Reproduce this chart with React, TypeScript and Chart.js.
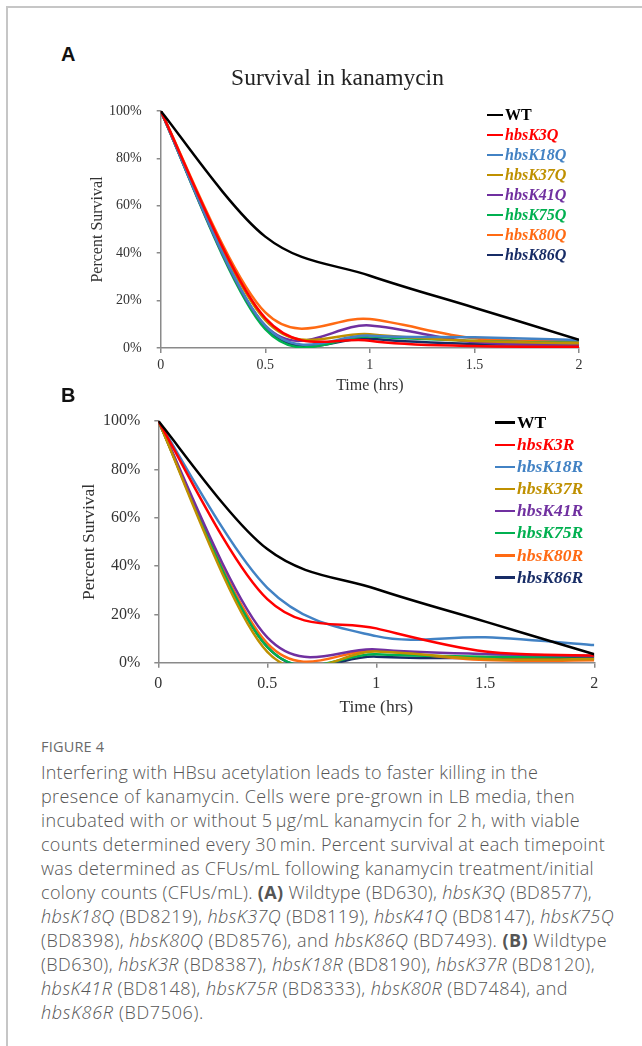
import React, { useEffect, useLayoutEffect, useRef } from "react";
import { Chart, registerables } from "chart.js";

Chart.register(...registerables);

// ---------- data ----------
const TIME_HRS = [0, 0.5, 1, 1.5, 2];
const X_TICK_LABELS = ["0", "0.5", "1", "1.5", "2"];
const Y_TICK_LABELS = ["0%", "20%", "40%", "60%", "80%", "100%"];

const STRAIN_COLORS = ["#000000", "#FF0000", "#4282C4", "#BF9000", "#7030A0", "#00B050", "#FF6A13", "#172C66"];

// Panel A (K->Q), percent survival
const NAMES_A = ["WT", "hbsK3Q", "hbsK18Q", "hbsK37Q", "hbsK41Q", "hbsK75Q", "hbsK80Q", "hbsK86Q"];
const A_WT = [100, 47, 30.5, 17, 3.5];
const A_K3Q = [100, 12.6, 3.1, 0.8, 0.5];
const A_K18Q = [100, 9.4, 5.2, 4.5, 3.4];
const A_K37Q = [100, 11.8, 5.8, 3, 2];
const A_K41Q = [100, 9.4, 9.5, 2.5, 1.5];
const A_K75Q = [100, 8, 4.8, 3, 2.2];
const A_K80Q = [100, 15, 12.2, 4.1, 2.8];
const A_K86Q = [100, 9, 3.9, 1.7, 1.5];

// Panel B (K->R), percent survival
const NAMES_B = ["WT", "hbsK3R", "hbsK18R", "hbsK37R", "hbsK41R", "hbsK75R", "hbsK80R", "hbsK86R"];
const B_WT = [100, 47, 30.5, 17, 3.5];
const B_K3R = [100, 26.3, 14.2, 4.6, 3];
const B_K18R = [100, 31, 11, 10.5, 7.3];
const B_K37R = [100, 4.5, 4.6, 1.5, 1.5];
const B_K41R = [100, 10.5, 5.5, 3.6, 2.8];
const B_K75R = [100, 6.5, 3.5, 2.5, 2.8];
const B_K80R = [100, 8, 5, 1.1, 1];
const B_K86R = [100, 6.5, 2.5, 1.9, 1.9];

const SERIES_A = [A_WT, A_K3Q, A_K18Q, A_K37Q, A_K41Q, A_K75Q, A_K80Q, A_K86Q];
const SERIES_B = [B_WT, B_K3R, B_K18R, B_K37R, B_K41R, B_K75R, B_K80R, B_K86R];

const SERIF = "'Liberation Serif', 'Times New Roman', serif";
const AXIS_COLOR = "#8a8a8a";
const TEXT_COLOR = "#333333";

// caption layout: left edge and right end of each printed line (px)
const CAPTION_LEFT = 41;
const CAPTION_LINE_ENDS = [538, 575, 580, 605, 594, 592, 614, 607, 595, 568, 204];

if (typeof document !== "undefined") {
  document.body.style.margin = "0";
}

// Spreadsheet-style smoothing: uniform Catmull-Rom Bezier handles (1/6 of neighbour chord),
// not capped to the chart area (the dataset clip hides what falls below 0%).
const smoothLinePlugin = {
  id: "smoothLine",
  beforeDatasetDraw(chart: any, args: any) {
    const meta = args.meta;
    const pts = meta.data;
    const n = pts.length;
    for (let i = 0; i < n; i++) {
      const p = pts[i];
      const prev = pts[Math.max(0, i - 1)];
      const next = pts[Math.min(n - 1, i + 1)];
      const dx = (next.x - prev.x) / 6;
      const dy = (next.y - prev.y) / 6;
      p.cp1x = p.x - dx;
      p.cp1y = p.y - dy;
      p.cp2x = p.x + dx;
      p.cp2y = p.y + dy;
    }
    if (meta.dataset) {
      meta.dataset._pointsUpdated = true;
      meta.dataset._path = undefined;
    }
  },
};

type PanelProps = {
  names: string[];
  series: number[][];
  left: number;
  top: number;
  width: number;
  height: number;
  padLeft: number;
  area: { left: number; right: number; top: number; bottom: number };
  title?: string;
  titleSize?: number;
  titleCenterY?: number;
  tickSize: number;
  axisTitleSize: number;
  xTickPad: number;
  yTickPad: number;
  xTitleCenterY: number;
  yTitleCenterX: number;
};

function SurvivalPanel(p: PanelProps) {
  const ref = useRef<HTMLCanvasElement>(null);
  useEffect(() => {
    const canvas = ref.current!;
    const aL = p.area.left - p.left;
    const aR = p.area.right - p.left;
    const aT = p.area.top - p.top;
    const aB = p.area.bottom - p.top;
    const titleLH = (p.titleSize || 0) * 1.2;
    const titlePadTop = p.title ? (p.titleCenterY || 0) - p.top - titleLH / 2 : 0;
    const axLH = p.axisTitleSize * 1.2;
    const xTitlePadBottom = p.top + p.height - p.xTitleCenterY - axLH / 2;
    const yTitlePadTop = p.yTitleCenterX - (p.left + p.padLeft) - axLH / 2;
    const chart = new Chart(canvas, {
      type: "line",
      data: {
        datasets: p.names.map((name, i) => ({
          label: name,
          data: TIME_HRS.map((t, j) => ({ x: t, y: p.series[i][j] })),
          borderColor: STRAIN_COLORS[i],
          backgroundColor: STRAIN_COLORS[i],
          borderWidth: 2.5,
          pointRadius: 0,
          tension: 0.4,
          fill: false,
        })),
      },
      options: {
        responsive: false,
        animation: false,
        devicePixelRatio: 1,
        layout: {
          padding: { left: p.padLeft, right: p.width - aR, top: p.title ? 0 : aT, bottom: 0 },
        },
        plugins: {
          legend: { display: false },
          tooltip: { enabled: false },
          title: {
            display: !!p.title,
            text: p.title || "",
            color: "#222222",
            font: { family: SERIF, size: p.titleSize || 12, weight: "normal", lineHeight: 1.2 },
            padding: { top: titlePadTop, bottom: aT - titleLH - titlePadTop },
          },
        },
        scales: {
          x: {
            type: "linear",
            min: 0,
            max: 2,
            ticks: {
              stepSize: 0.5,
              color: TEXT_COLOR,
              padding: p.xTickPad,
              font: { family: SERIF, size: p.tickSize },
              callback: (v: any) => {
                const k = TIME_HRS.indexOf(Number(v));
                return k >= 0 ? X_TICK_LABELS[k] : "";
              },
            },
            grid: { drawOnChartArea: false, drawTicks: true, tickLength: 5, color: AXIS_COLOR, lineWidth: 1.5 },
            border: { display: true, color: AXIS_COLOR, width: 1.5 },
            title: {
              display: true,
              text: "Time (hrs)",
              color: TEXT_COLOR,
              font: { family: SERIF, size: p.axisTitleSize, lineHeight: 1.2 },
              padding: { top: 0, bottom: xTitlePadBottom },
            },
            afterFit: (s: any) => {
              s.height = p.height - aB;
            },
          },
          y: {
            type: "linear",
            min: 0,
            max: 100,
            ticks: {
              stepSize: 20,
              color: TEXT_COLOR,
              padding: p.yTickPad,
              font: { family: SERIF, size: p.tickSize },
              callback: (v: any) => Y_TICK_LABELS[Math.round(Number(v) / 20)] ?? "",
            },
            grid: { drawOnChartArea: false, drawTicks: true, tickLength: 4, color: AXIS_COLOR, lineWidth: 1.5 },
            border: { display: true, color: AXIS_COLOR, width: 1.5 },
            title: {
              display: true,
              text: "Percent Survival",
              color: TEXT_COLOR,
              font: { family: SERIF, size: p.axisTitleSize, lineHeight: 1.2 },
              padding: { top: yTitlePadTop, bottom: 0 },
            },
            afterFit: (s: any) => {
              s.width = aL - p.padLeft;
            },
          },
        },
      } as any,
      plugins: [smoothLinePlugin as any],
    });
    return () => chart.destroy();
  }, []);
  return (
    <canvas
      ref={ref}
      width={p.width}
      height={p.height}
      style={{ position: "absolute", left: p.left, top: p.top, width: p.width, height: p.height }}
    />
  );
}

function Legend(props: { names: string[]; left: number; top: number; rowH: number; size: number; lineW: number }) {
  return (
    <div style={{ position: "absolute", left: props.left, top: props.top }}>
      {props.names.map((n, i) => (
        <div key={n} style={{ display: "flex", alignItems: "center", height: props.rowH, whiteSpace: "nowrap" }}>
          <span
            style={{
              display: "inline-block",
              width: props.lineW,
              height: 2.5,
              background: STRAIN_COLORS[i],
              marginRight: 2,
            }}
          />
          <span
            style={{
              fontFamily: SERIF,
              fontSize: props.size,
              fontWeight: "bold",
              fontStyle: i === 0 ? "normal" : "italic",
              color: STRAIN_COLORS[i],
              lineHeight: 1,
            }}
          >
            {n}
          </span>
        </div>
      ))}
    </div>
  );
}

const CAPTION_FONT = "'Open Sans', Lato, 'Noto Sans', sans-serif";

function I({ children }: { children: React.ReactNode }) {
  return <i>{children}</i>;
}
function B({ children }: { children: React.ReactNode }) {
  return <b style={{ fontWeight: 700 }}>{children}</b>;
}

function Caption() {
  const th = "\u2009";
  const lines: React.ReactNode[] = [
    <>Interfering with HBsu acetylation leads to faster killing in the</>,
    <>presence of kanamycin. Cells were pre-grown in LB media, then</>,
    <>incubated with or without 5{th}µg/mL kanamycin for 2{th}h, with viable</>,
    <>counts determined every 30{th}min. Percent survival at each timepoint</>,
    <>was determined as CFUs/mL following kanamycin treatment/initial</>,
    <>
      colony counts (CFUs/mL). <B>(A)</B> Wildtype (BD630), <I>hbsK3Q</I> (BD8577),
    </>,
    <>
      <I>hbsK18Q</I> (BD8219), <I>hbsK37Q</I> (BD8119), <I>hbsK41Q</I> (BD8147), <I>hbsK75Q</I>
    </>,
    <>
      (BD8398), <I>hbsK80Q</I> (BD8576), and <I>hbsK86Q</I> (BD7493). <B>(B)</B> Wildtype
    </>,
    <>
      (BD630), <I>hbsK3R</I> (BD8387), <I>hbsK18R</I> (BD8190), <I>hbsK37R</I> (BD8120),
    </>,
    <>
      <I>hbsK41R</I> (BD8148), <I>hbsK75R</I> (BD8333), <I>hbsK80R</I> (BD7484), and
    </>,
    <>
      <I>hbsK86R</I> (BD7506).
    </>,
  ];
  const spans = useRef<(HTMLSpanElement | null)[]>([]);
  useLayoutEffect(() => {
    spans.current.forEach((el, i) => {
      if (!el) return;
      el.style.letterSpacing = "0px";
      const w = el.getBoundingClientRect().width;
      const chars = (el.textContent || "").length;
      const target = CAPTION_LINE_ENDS[i] - CAPTION_LEFT;
      if (chars > 1) el.style.letterSpacing = (target - w) / chars + "px";
    });
  }, []);
  return (
    <div
      style={{
        position: "absolute",
        left: CAPTION_LEFT,
        top: 760,
        fontFamily: CAPTION_FONT,
        fontSize: 18,
        fontWeight: 300,
        lineHeight: "24px",
        color: "#555555",
        whiteSpace: "nowrap",
      }}
    >
      {lines.map((l, i) => (
        <div key={i}>
          <span ref={(el) => { spans.current[i] = el; }} style={{ display: "inline-block" }}>
            {l}
          </span>
        </div>
      ))}
    </div>
  );
}

export default function App() {
  const panelLabel: React.CSSProperties = {
    position: "absolute",
    left: 61,
    fontFamily: "'Liberation Sans', Arial, sans-serif",
    fontWeight: "bold",
    fontSize: 20,
    lineHeight: "24px",
    color: "#111",
  };
  return (
    <div style={{ position: "absolute", left: 0, top: 0, width: 642, height: 1046, background: "#fff", overflow: "hidden" }}>
      <div
        style={{
          position: "absolute",
          left: 6,
          top: 6,
          width: 640,
          height: 1045,
          borderTop: "2px solid #c6c6c6",
          borderLeft: "2px solid #c6c6c6",
        }}
      />
      <div style={{ ...panelLabel, top: 42 }}>A</div>
      <SurvivalPanel
        names={NAMES_A}
        series={SERIES_A}
        left={35}
        top={40}
        width={605}
        height={360}
        padLeft={61}
        area={{ left: 160.7, right: 579, top: 111, bottom: 348 }}
        title="Survival in kanamycin"
        titleSize={23.5}
        titleCenterY={79}
        tickSize={14}
        axisTitleSize={16}
        xTickPad={4}
        yTickPad={15}
        xTitleCenterY={386}
        yTitleCenterX={97.5}
      />
      <Legend names={NAMES_A} left={487} top={105} rowH={20} size={16} lineW={16} />

      <div style={{ ...panelLabel, top: 383 }}>B</div>
      <SurvivalPanel
        names={NAMES_B}
        series={SERIES_B}
        left={30}
        top={380}
        width={610}
        height={340}
        padLeft={0}
        area={{ left: 158.3, right: 594.3, top: 421, bottom: 662.7 }}
        tickSize={16}
        axisTitleSize={17.5}
        xTickPad={6.5}
        yTickPad={14}
        xTitleCenterY={707}
        yTitleCenterX={89.5}
      />
      <Legend names={NAMES_B} left={495} top={411.7} rowH={22.1} size={17.5} lineW={20} />

      <div
        style={{
          position: "absolute",
          left: 41,
          top: 739,
          fontFamily: CAPTION_FONT,
          fontSize: 14.5,
          lineHeight: "16px",
          color: "#6a6a6a",
          letterSpacing: "0.2px",
        }}
      >
        FIGURE 4
      </div>
      <Caption />
    </div>
  );
}
